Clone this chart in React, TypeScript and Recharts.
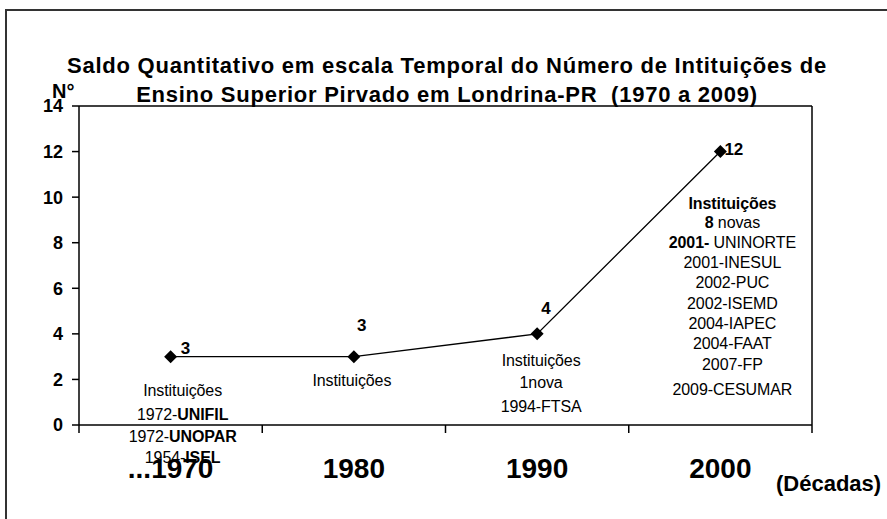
import React from "react";
import { LineChart, Line, XAxis, YAxis, ReferenceLine } from "recharts";

// ---- data ----
const decades = ["...1970", "1980", "1990", "2000"];
const counts = [3, 3, 4, 12];
const yTicks = [0, 2, 4, 6, 8, 10, 12, 14];
const titleLines = [
  "Saldo Quantitativo em escala Temporal do Número de Intituições de",
  "Ensino Superior Pirvado em Londrina-PR  (1970 a 2009)",
];
const yAxisTitle = "N°";
const xAxisTitle = "(Décadas)";
// notes under each point; text between * is bold
const notes1970 = ["Instituições", "1972-*UNIFIL*", "1972-*UNOPAR*", "1954-*ISEL*"];
const notes1980 = ["Instituições"];
const notes1990 = ["Instituições", "1nova", "1994-FTSA"];
const notes2000 = [
  "*Instituições*",
  "*8* novas",
  "*2001-* UNINORTE",
  "2001-INESUL",
  "2002-PUC",
  "2002-ISEMD",
  "2004-IAPEC",
  "2004-FAAT",
  "2007-FP",
  "2009-CESUMAR",
];
const notes = [notes1970, notes1980, notes1990, notes2000];

const tableData = decades.map((d, i) => ({ x: i + 0.5, decade: d, v: counts[i] }));

const FONT = "'Liberation Sans', Arial, Helvetica, sans-serif";

// ---- layout constants (not data) ----
const valueLabelOffset = [
  { dx: 10, dy: -3 },
  { dx: 3, dy: -26 },
  { dx: 4, dy: -20 },
  { dx: 4, dy: 3 },
];
const noteLayout = [
  { dx: 12, dys: [39, 63, 85, 106] },
  { dx: -2, dys: [29] },
  { dx: 4, dys: [32, 54, 78] },
  { dx: 12, dys: [57, 76, 96, 116, 136, 157, 177, 197, 218, 243] },
];

function renderRich(line: string) {
  const parts = line.split("*");
  return parts.map((p, k) =>
    p.length === 0 ? null : (
      <tspan key={k} fontWeight={k % 2 === 1 ? 900 : 400}>
        {p}
      </tspan>
    )
  );
}

const Dot = (props: any) => {
  const { cx, cy, index, value } = props;
  if (cx == null || cy == null) return null;
  const s = 6.5;
  const vo = valueLabelOffset[index];
  const nl = noteLayout[index];
  const v = Array.isArray(value) ? value[1] : value;
  return (
    <g key={`dot-${index}`}>
      <polygon
        points={`${cx},${cy - s} ${cx + s},${cy} ${cx},${cy + s} ${cx - s},${cy}`}
        fill="#000"
      />
      <text
        x={cx + vo.dx}
        y={cy + vo.dy}
        fontFamily={FONT}
        fontWeight="bold"
        fontSize={17}
        fill="#000"
      >
        {v}
      </text>
      {notes[index].map((ln, j) => (
        <text
          key={j}
          x={cx + nl.dx}
          y={cy + nl.dys[j]}
          textAnchor="middle"
          fontFamily={FONT}
          fontSize={16}
          letterSpacing={-0.1}
          fill="#000"
        >
          {renderRich(ln)}
        </text>
      ))}
    </g>
  );
};

const XTick = (props: any) => {
  const { x, y, payload } = props;
  const v = payload.value;
  if (Number.isInteger(v)) {
    return <line x1={x} x2={x} y1={y - 8} y2={y} stroke="#000" strokeWidth={1.5} />;
  }
  const i = Math.floor(v);
  return (
    <text
      x={x}
      y={y + 45}
      textAnchor="middle"
      fontFamily={FONT}
      fontWeight="bold"
      fontSize={28}
      fill="#000"
    >
      {decades[i]}
    </text>
  );
};

export default function App() {
  return (
    <div style={{ position: "absolute", left: 0, top: 0, width: 887, height: 519, background: "#fff" }}>
      <LineChart
        width={887}
        height={519}
        data={tableData}
        margin={{ top: 106, right: 75, left: 0, bottom: 0 }}
      >
        <XAxis
          dataKey="x"
          type="number"
          domain={[0, 4]}
          ticks={[0, 0.5, 1, 1.5, 2, 2.5, 3, 3.5, 4]}
          interval={0}
          height={94}
          tickLine={false}
          tickSize={8}
          tickMargin={0}
          axisLine={{ stroke: "#000", strokeWidth: 1.5 }}
          tick={<XTick />}
        />
        <YAxis
          domain={[0, 14]}
          ticks={yTicks}
          interval={0}
          width={79}
          tickSize={7}
          tickMargin={9}
          axisLine={{ stroke: "#000", strokeWidth: 1.5 }}
          tickLine={{ stroke: "#000", strokeWidth: 1.5 }}
          tick={{ fill: "#000", fontFamily: FONT, fontWeight: "bold", fontSize: 18 }}
        />
        <ReferenceLine y={14} stroke="#000" strokeWidth={1.5} ifOverflow="extendDomain" />
        <ReferenceLine x={4} stroke="#000" strokeWidth={1.5} ifOverflow="extendDomain" />
        <Line
          type="linear"
          dataKey="v"
          stroke="#000"
          strokeWidth={1.3}
          dot={(p: any) => <Dot {...p} />}
          activeDot={false}
          isAnimationActive={false}
        />
      </LineChart>
      <svg
        width={887}
        height={519}
        style={{ position: "absolute", left: 0, top: 0, pointerEvents: "none" }}
      >
        <polyline points="6,519 6,10 887,10" fill="none" stroke="#333" strokeWidth={2} />
        {titleLines.map((t, i) => (
          <text
            key={i}
            x={447}
            y={73 + i * 29}
            textAnchor="middle"
            fontFamily={FONT}
            fontWeight="bold"
            fontSize={22}
            letterSpacing={0.75}
            fill="#000"
            style={{ whiteSpace: "pre" }}
          >
            {t}
          </text>
        ))}
        <text x={52} y={98} fontFamily={FONT} fontWeight="bold" fontSize={20} fill="#000">
          {yAxisTitle}
        </text>
        <text x={776} y={491} fontFamily={FONT} fontWeight="bold" fontSize={22} fill="#000">
          {xAxisTitle}
        </text>
      </svg>
    </div>
  );
}
